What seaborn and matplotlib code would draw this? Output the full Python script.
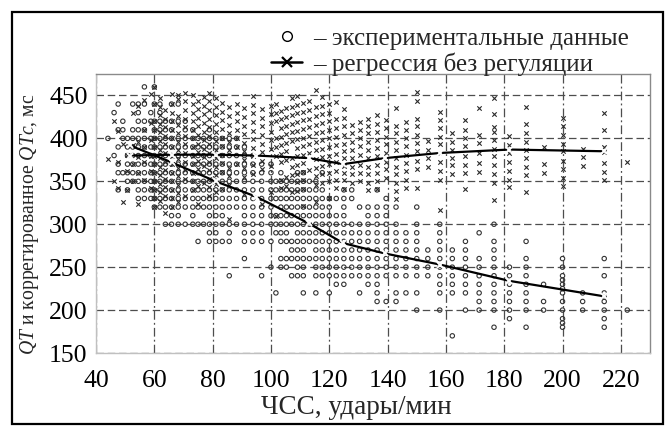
import matplotlib
matplotlib.use("Agg")
import matplotlib.pyplot as plt
from matplotlib.lines import Line2D
from matplotlib.patches import Rectangle
import seaborn as sns
import pandas as pd

# ---------------- data ----------------
# experimental data: QT level (ms) -> heart rates (beats/min) where a circle is drawn
circle_qt_levels = [460, 440, 430, 420, 410, 400, 390, 380, 370, 360, 350, 340, 330, 320,
                    310, 300, 290, 280, 270, 260, 250, 240, 235, 230, 225, 220, 215, 210,
                    200, 190, 185, 180, 170]
circle_hr_rows = [
    [56.6, 60.0],
    [47.6, 52.6, 54.5, 56.6, 60.0, 61.9, 65.9, 68.2],
    [46.2, 54.5, 58.8, 61.9],
    [49.2, 54.5, 56.6, 58.8, 60.0, 61.9, 63.8, 65.9, 68.2, 70.6],
    [47.6, 49.2, 52.6, 54.5, 56.6, 60.0, 61.9, 63.8, 65.9, 70.6, 73.2, 78.9],
    [44.1, 49.2, 50.8, 52.6, 54.5, 56.6, 58.8, 60.0, 61.9, 63.8, 65.9, 68.2, 70.6, 73.2, 75.0,
     76.9, 78.9, 81.1, 83.3, 85.7, 88.2],
    [47.6, 50.8, 52.6, 54.5, 56.6, 58.8, 60.0, 61.9, 63.8, 65.9, 68.2, 70.6, 73.2, 75.0, 76.9,
     78.9, 81.1, 83.3, 85.7, 88.2, 90.9],
    [46.2, 50.8, 52.6, 54.5, 56.6, 58.8, 60.0, 61.9, 63.8, 65.9, 68.2, 70.6, 73.2, 75.0, 76.9,
     78.9, 81.1, 83.3, 85.7, 88.2, 90.9, 93.8],
    [47.6, 50.8, 52.6, 54.5, 56.6, 58.8, 60.0, 61.9, 63.8, 65.9, 68.2, 70.6, 73.2, 75.0, 76.9,
     78.9, 81.1, 83.3, 85.7, 88.2, 90.9, 93.8, 96.8, 100.0],
    [47.6, 49.2, 50.8, 52.6, 54.5, 56.6, 58.8, 60.0, 61.9, 63.8, 65.9, 68.2, 70.6, 73.2, 75.0,
     76.9, 78.9, 81.1, 83.3, 85.7, 88.2, 90.9, 93.8, 96.8, 100.0, 103.4, 109.1, 111.1, 117.6],
    [50.8, 52.6, 54.5, 56.6, 58.8, 60.0, 61.9, 63.8, 65.9, 68.2, 70.6, 73.2, 75.0, 76.9, 78.9,
     81.1, 83.3, 85.7, 88.2, 90.9, 93.8, 96.8, 100.0, 101.7, 103.4, 105.3, 107.1, 109.1, 111.1,
     113.2, 115.4],
    [47.6, 50.8, 54.5, 56.6, 58.8, 60.0, 61.9, 63.8, 65.9, 68.2, 70.6, 73.2, 75.0, 76.9, 78.9,
     81.1, 83.3, 85.7, 88.2, 90.9, 93.8, 96.8, 100.0, 101.7, 103.4, 105.3, 107.1, 109.1, 111.1,
     113.2, 115.4, 117.6, 125.0, 127.7, 136.4],
    [54.5, 56.6, 58.8, 60.0, 61.9, 63.8, 65.9, 68.2, 70.6, 73.2, 75.0, 76.9, 78.9, 81.1, 83.3,
     85.7, 88.2, 90.9, 93.8, 96.8, 100.0, 101.7, 103.4, 105.3, 107.1, 109.1, 111.1, 113.2, 115.4,
     117.6, 120.0, 122.4, 125.0, 127.7, 139.5],
    [60.0, 61.9, 63.8, 65.9, 68.2, 70.6, 73.2, 75.0, 76.9, 78.9, 81.1, 83.3, 85.7, 88.2, 90.9,
     93.8, 96.8, 100.0, 103.4, 105.3, 107.1, 109.1, 111.1, 113.2, 115.4, 117.6, 120.0, 125.0,
     130.4, 133.3, 136.4, 139.5, 142.9, 150.0],
    [65.9, 68.2, 73.2, 78.9, 81.1, 83.3, 90.9, 93.8, 96.8, 100.0, 101.7, 103.4, 105.3, 107.1,
     109.1, 111.1, 113.2, 115.4, 117.6, 120.0, 122.4, 125.0, 133.3, 136.4, 139.5],
    [63.8, 65.9, 68.2, 70.6, 73.2, 75.0, 76.9, 78.9, 81.1, 83.3, 85.7, 88.2, 90.9, 93.8, 96.8,
     100.0, 101.7, 103.4, 105.3, 107.1, 109.1, 111.1, 113.2, 115.4, 117.6, 120.0, 122.4, 125.0,
     127.7, 130.4, 133.3, 136.4, 139.5, 142.9, 150.0, 157.9, 176.5],
    [78.9, 81.1, 85.7, 90.9, 93.8, 96.8, 101.7, 103.4, 105.3, 109.1, 111.1, 113.2, 115.4, 117.6,
     120.0, 122.4, 125.0, 127.7, 130.4, 133.3, 136.4, 139.5, 142.9, 146.3, 150.0, 157.9, 171.4],
    [75.0, 78.9, 81.1, 83.3, 85.7, 90.9, 93.8, 96.8, 100.0, 103.4, 105.3, 107.1, 109.1, 111.1,
     113.2, 115.4, 117.6, 120.0, 122.4, 125.0, 127.7, 130.4, 133.3, 136.4, 139.5, 142.9, 146.3,
     150.0, 157.9, 166.7, 176.5, 187.5],
    [107.1, 109.1, 111.1, 115.4, 117.6, 120.0, 122.4, 125.0, 127.7, 130.4, 133.3, 136.4, 139.5,
     142.9, 146.3, 150.0, 153.8, 157.9, 162.2, 166.7, 176.5],
    [90.9, 103.4, 105.3, 107.1, 109.1, 111.1, 113.2, 115.4, 117.6, 120.0, 122.4, 125.0, 127.7,
     130.4, 133.3, 136.4, 139.5, 142.9, 146.3, 150.0, 153.8, 157.9, 162.2, 166.7, 171.4, 176.5,
     187.5, 200.0, 214.3],
    [100.0, 103.4, 105.3, 109.1, 111.1, 115.4, 117.6, 120.0, 122.4, 125.0, 127.7, 130.4, 133.3,
     136.4, 139.5, 142.9, 146.3, 150.0, 153.8, 157.9, 162.2, 166.7, 171.4, 176.5, 181.8, 187.5,
     200.0],
    [85.7, 96.8, 107.1, 109.1, 111.1, 115.4, 117.6, 120.0, 122.4, 125.0, 127.7, 130.4, 133.3,
     136.4, 139.5, 142.9, 146.3, 150.0, 153.8, 157.9, 162.2, 166.7, 171.4, 176.5, 181.8, 187.5,
     200.0, 214.3],
    [200.0],
    [122.4, 125.0, 133.3, 136.4, 157.9, 162.2, 166.7, 171.4, 176.5, 181.8, 187.5, 193.5, 200.0],
    [200.0],
    [101.7, 111.1, 115.4, 120.0, 130.4, 136.4, 142.9, 146.3, 150.0, 157.9, 162.2, 166.7, 171.4,
     176.5, 181.8, 187.5, 200.0, 206.9, 214.3],
    [214.3],
    [136.4, 139.5, 142.9, 171.4, 176.5, 181.8, 187.5, 193.5, 200.0, 206.9, 214.3],
    [150.0, 157.9, 166.7, 171.4, 176.5, 181.8, 187.5, 193.5, 200.0, 206.9, 214.3, 222.2],
    [181.8, 200.0, 214.3],
    [200.0],
    [176.5, 187.5, 200.0, 214.3],
    [162.2],
]

# corrected values (crosses): heart-rate column -> QTc values (ms)
cross_hr_cols = [44.1, 46.2, 47.6, 49.2, 50.8, 52.6, 54.5, 56.6, 58.8, 60.0, 61.9, 63.8, 65.9,
                 68.2, 70.6, 73.2, 75.0, 76.9, 78.9, 81.1, 83.3, 85.7, 88.2, 90.9, 93.8, 96.8,
                 100.0, 101.7, 103.4, 105.3, 107.1, 109.1, 111.1, 113.2, 115.4, 117.6, 120.0,
                 122.4, 125.0, 127.7, 130.4, 133.3, 136.4, 139.5, 142.9, 146.3, 150.0, 153.8,
                 157.9, 162.2, 166.7, 171.4, 176.5, 181.8, 187.5, 193.5, 200.0, 206.9, 214.3,
                 222.2]
cross_qtc_cols = [
    [376],
    [420, 350],
    [409, 372, 342],
    [394, 326],
    [381, 362, 340],
    [430, 392, 370, 350],
    [438, 396, 378, 360, 323],
    [445, 410, 390, 372, 352],
    [452, 418, 398, 380, 362, 342],
    [460, 440, 420, 410, 400, 390, 380, 370, 360, 350, 340, 330, 320],
    [447, 437, 427, 417, 407, 397, 387, 377, 367, 357, 347, 337, 327],
    [433, 423, 413, 403, 393, 383, 373, 363, 353, 343, 333, 313],
    [452, 440, 430, 420, 410, 400, 390, 380, 370, 360, 350, 340, 330, 320],
    [451, 446, 426, 416, 406, 396, 386, 376, 366, 356, 346, 336, 326],
    [453, 443, 433, 423, 413, 403, 393, 383, 373, 363, 353, 333],
    [450, 440, 430, 420, 410, 400, 390, 380, 370, 360, 350, 340],
    [444, 434, 424, 414, 404, 394, 384, 374, 364, 344, 324],
    [448, 438, 428, 418, 408, 398, 388, 378, 368, 348],
    [453, 443, 433, 423, 413, 403, 393, 383, 373, 363, 353, 343, 333],
    [447, 437, 427, 417, 407, 397, 387, 377, 367, 357, 347, 337],
    [441, 431, 421, 411, 401, 391, 381, 371, 361, 341],
    [436, 426, 416, 406, 396, 386, 366, 356, 346, 306],
    [440, 430, 420, 410, 400, 390, 370],
    [435, 425, 415, 405, 395, 385, 375, 365, 355, 335],
    [449, 439, 429, 419, 409, 399, 389, 379, 369, 359],
    [434, 424, 414, 404, 394, 384, 374, 364, 324],
    [438, 428, 418, 408, 398, 388, 368, 338],
    [440, 430, 420, 400, 390, 380, 310],
    [432, 422, 412, 402, 392, 382, 372, 352, 342],
    [435, 425, 415, 405, 395, 385, 375, 355, 345],
    [447, 437, 427, 417, 407, 397, 377, 367, 357, 337],
    [449, 439, 429, 419, 409, 399, 389, 379, 369, 359, 349, 339],
    [441, 431, 421, 411, 401, 391, 381, 371, 361, 351, 341, 321],
    [443, 433, 423, 413, 403, 393, 383, 363],
    [456, 436, 426, 416, 406, 396, 386, 376, 366, 356, 346, 326],
    [448, 438, 428, 418, 408, 398, 388, 378, 368, 358, 348],
    [440, 430, 420, 410, 400, 390, 380, 370, 360, 350, 330],
    [442, 422, 412, 402, 392, 382, 372, 362, 352, 342],
    [434, 424, 414, 404, 394, 385, 377, 368, 360, 351, 341],
    [416, 406, 396, 387, 377, 367, 358, 348],
    [419, 410, 400, 391, 381, 369, 360, 350],
    [423, 415, 406, 396, 387, 377, 367, 358, 348, 340],
    [427, 417, 408, 398, 389, 379, 369, 360, 350, 341],
    [421, 412, 402, 393, 383, 373, 364, 354],
    [435, 415, 406, 396, 387, 377, 367, 358, 348, 339, 329],
    [419, 410, 400, 391, 381, 371, 362, 352, 342],
    [454, 444, 423, 414, 404, 395, 385, 374, 364, 342],
    [397, 387, 377, 367],
    [431, 421, 412, 402, 393, 383, 373, 362, 352, 317],
    [406, 396, 387, 377, 369, 358],
    [421, 410, 400, 391, 379, 369, 360, 341],
    [435, 404, 395, 383, 371, 361],
    [447, 428, 413, 408, 398, 388, 379, 369, 359, 348, 328],
    [403, 392, 383, 372, 362, 352, 343],
    [436, 417, 406, 396, 387, 377, 367, 357, 337],
    [390, 370, 360],
    [424, 414, 404, 394, 385, 374, 364, 354, 345],
    [388, 378, 368],
    [430, 410, 390, 384, 371, 361, 351],
    [373],
]

# regression lines
line_hr = [51.5, 66.0, 81.0, 95.0, 113.0, 124.8, 139.0, 158.0, 181.8, 214.3]
qt_regression = [392, 372, 350, 332, 301, 278, 266, 253, 234, 216]
qtc_regression = [380, 381, 381, 380, 377, 370, 377, 383, 387, 385]

x_ticks = [40, 60, 80, 100, 120, 140, 160, 180, 200, 220]
y_ticks = [150, 200, 250, 300, 350, 400, 450]
legend_labels = ["– экспериментальные данные", "– регрессия без регуляции"]
x_label = "ЧСС, удары/мин"
y_label = r"$QT$ и коррегированное $QTc$, мс"

# ---------------- build tables ----------------
circles = pd.DataFrame(
    [(hr, qt) for qt, row in zip(circle_qt_levels, circle_hr_rows) for hr in row],
    columns=["hr", "qt"])
crosses = pd.DataFrame(
    [(hr, v) for hr, col in zip(cross_hr_cols, cross_qtc_cols) for v in col],
    columns=["hr", "qtc"])
lines = pd.DataFrame({"hr": line_hr, "qt": qt_regression, "qtc": qtc_regression})

# ---------------- style ----------------
sns.set_style("white")
plt.rcParams["font.family"] = ["Liberation Serif", "DejaVu Serif"]
plt.rcParams["mathtext.fontset"] = "custom"
plt.rcParams["mathtext.it"] = "Liberation Serif:italic"
plt.rcParams["mathtext.rm"] = "Liberation Serif"

fig = plt.figure(figsize=(6.71, 4.30), dpi=100)
ax = fig.add_axes([96 / 671, 1 - 353 / 430, (650 - 96) / 671, (353 - 74) / 430])

sns.scatterplot(data=circles, x="hr", y="qt", ax=ax, marker="o", s=10,
                facecolors="none", edgecolor="#333333", linewidth=0.8, zorder=3)
sns.scatterplot(data=crosses, x="hr", y="qtc", ax=ax, marker="x", s=10,
                color="#2a2a2a", linewidth=0.8, zorder=3)
sns.lineplot(data=lines, x="hr", y="qt", ax=ax, color="black", linewidth=1.6,
             marker="x", markersize=4.5, markeredgewidth=1.4, sort=False,
             estimator=None, zorder=4)
sns.lineplot(data=lines, x="hr", y="qtc", ax=ax, color="black", linewidth=1.6,
             marker="x", markersize=4.5, markeredgewidth=1.4, sort=False,
             estimator=None, zorder=4)

ax.set_xlim(40, 230)
ax.set_ylim(150, 475)
ax.set_xticks(x_ticks)
ax.set_yticks(y_ticks)
ax.set_xlabel("")
ax.set_ylabel("")
ax.tick_params(axis="both", length=0, labelsize=18.5, colors="black")
ax.tick_params(axis="y", pad=6)
ax.tick_params(axis="x", pad=12)

ax.yaxis.grid(True, linestyle=(0, (6, 3)), color="#4d4d4d", linewidth=0.9, zorder=1)
ax.xaxis.grid(True, linestyle=(0, (7, 2.5, 1.5, 2.5)), color="#4d4d4d", linewidth=0.9, zorder=1)
ax.set_axisbelow(True)
for side in ["left", "bottom"]:
    ax.spines[side].set_color("#c0c0c0")
    ax.spines[side].set_linewidth(1.0)
for side in ["top", "right"]:
    ax.spines[side].set_color("#8a8a8a")
    ax.spines[side].set_linewidth(1.0)

fig.text(30 / 671, 1 - 224 / 430, y_label, rotation=90, ha="center", va="center",
         fontsize=14.2)
fig.text(356 / 671, 1 - 407 / 430, x_label, ha="center", va="center", fontsize=19.5)

handles = [
    Line2D([], [], linestyle="none", marker="o", markersize=7, markerfacecolor="none",
           markeredgecolor="black", markeredgewidth=1.0),
    Line2D([], [], color="black", linewidth=1.8, marker="x", markersize=7,
           markeredgewidth=1.6),
]
fig.legend(handles, legend_labels, loc="upper left", bbox_to_anchor=(261 / 671, 1 - 17 / 430),
           frameon=False, fontsize=18, handlelength=1.25, handletextpad=0.45,
           labelspacing=0.12, borderaxespad=0.0)

fig.patches.append(Rectangle((12 / 671, 1 - 424 / 430), (663 - 12) / 671, (424 - 12) / 430,
                             transform=fig.transFigure, fill=False, edgecolor="black",
                             linewidth=1.6, zorder=10))

fig.savefig("out.png", dpi=100)
